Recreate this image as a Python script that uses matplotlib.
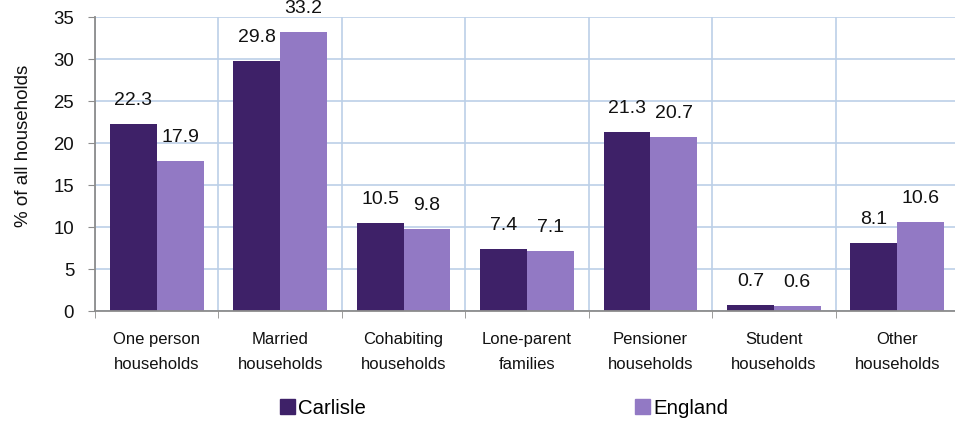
import matplotlib.pyplot as plt
import matplotlib.patches as mpatches
import numpy as np

categorias = ['One person\nhouseholds', 'Married\nhouseholds', 'Cohabiting\nhouseholds',
              'Lone-parent\nfamilies', 'Pensioner\nhouseholds', 'Student\nhouseholds',
              'Other\nhouseholds']
carlisle = [22.3, 29.8, 10.5, 7.4, 21.3, 0.7, 8.1]
england = [17.9, 33.2, 9.8, 7.1, 20.7, 0.6, 10.6]
y_ticks = [0, 5, 10, 15, 20, 25, 30, 35]

cor_carlisle = '#3E2168'
cor_england = '#9279C4'
cor_grade = '#BCD0E8'
cor_eixo = '#8C8C8C'

plt.rcParams['font.family'] = ['Liberation Sans', 'DejaVu Sans']

fig = plt.figure(figsize=(9.55, 4.22), dpi=100)
ax = fig.add_axes([95 / 955, 1 - 311 / 422, (959 - 95) / 955, (311 - 17) / 422])

x = np.arange(len(categorias))
w = 0.38
b1 = ax.bar(x - w / 2, carlisle, w, color=cor_carlisle, zorder=3)
b2 = ax.bar(x + w / 2, england, w, color=cor_england, zorder=3)

# rótulos de valor acima das barras
for rects, vals in ((b1, carlisle), (b2, england)):
    for r, v in zip(rects, vals):
        ax.annotate(f'{v:.1f}', (r.get_x() + r.get_width() / 2, v),
                    xytext=(0, 13.7), textcoords='offset points',
                    ha='center', va='baseline', fontsize=14, color='#111111')

ax.set_xlim(-0.5, len(categorias) - 0.5)
ax.set_ylim(0, 35)
ax.set_yticks(y_ticks)
ax.tick_params(axis='y', labelsize=13.4, length=5, color=cor_eixo, pad=10,
               labelcolor='#111111')

ax.set_xticks(x)
ax.set_xticklabels(categorias, fontsize=12, linespacing=1.85, color='#111111')
ax.set_xticks(np.arange(len(categorias) + 1) - 0.5, minor=True)
ax.tick_params(axis='x', which='major', length=0, pad=15)
ax.tick_params(axis='x', which='minor', length=5, color=cor_eixo)

ax.grid(True, which='major', axis='y', color=cor_grade, linewidth=1.2, zorder=0)
ax.grid(True, which='minor', axis='x', color=cor_grade, linewidth=1.2, zorder=0)

for s in ('top', 'right'):
    ax.spines[s].set_visible(False)
for s in ('left', 'bottom'):
    ax.spines[s].set_color(cor_eixo)
    ax.spines[s].set_linewidth(1.3)
    ax.spines[s].set_zorder(4)

ax.set_ylabel('% of all households', fontsize=13.5, color='#111111')
ax.yaxis.set_label_coords(-(95 - 32) / 864, 0.56)

handles = [mpatches.Patch(color=cor_carlisle, label='Carlisle'),
           mpatches.Patch(color=cor_england, label='England')]
fig.legend(handles=handles, loc='center', bbox_to_anchor=(0.528, 1 - 408 / 422),
           ncol=2, frameon=False, fontsize=14.7, handlelength=0.73,
           handleheight=0.73, handletextpad=0.15, columnspacing=13.2,
           borderpad=0)

fig.savefig('out.png', dpi=100)
